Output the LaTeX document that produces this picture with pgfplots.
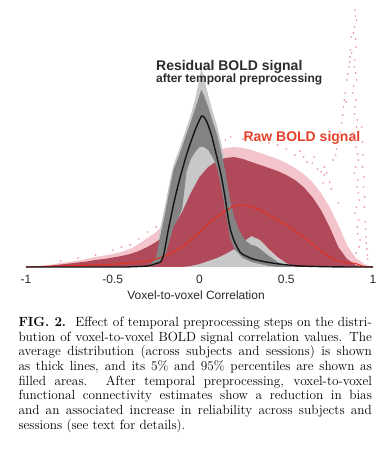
\documentclass[border=0pt]{standalone}
\usepackage{pgfplots}
\pgfplotsset{compat=1.18}
\usepgfplotslibrary{fillbetween}
\pgfplotsset{/tikz/fill between/on layer=main}
\usepackage{fontspec}
\newfontfamily\arial{Liberation Sans}
\definecolor{pinkc}{HTML}{F3C4CB}
\definecolor{pinkdot}{HTML}{EAA2AD}
\definecolor{lgray}{HTML}{C8C8C8}
\definecolor{dred}{HTML}{B04A5A}
\definecolor{ring}{HTML}{838383}
\definecolor{redline}{HTML}{E4301C}
\definecolor{txt}{HTML}{2B2B2B}
\definecolor{redtxt}{HTML}{E5402A}

\pgfplotstableread{
x y
-1 0
-0.95 0.5
-0.9 1.5
-0.85 2.5
-0.8 4
-0.75 5
-0.7 6.5
-0.65 8
-0.6 10
-0.55 11.5
-0.5 13
-0.45 15
-0.4 18
-0.35 23
-0.3 29
-0.25 35
-0.2 43
-0.15 54
-0.1 68
-0.05 86
0 100
0.05 110
0.1 116
0.15 119
0.2 120
0.25 119
0.3 117
0.35 114
0.4 111
0.45 108
0.5 104
0.55 99
0.6 93
0.65 85
0.7 74
0.75 60
0.8 42
0.85 22
0.9 9
0.95 3
1 0
}\pinkenv

\pgfplotstableread{
x y
-1 0
-0.95 0.3
-0.9 0.8
-0.85 1.5
-0.8 2.5
-0.75 3.5
-0.7 4.5
-0.65 5.5
-0.6 7
-0.55 8
-0.5 9.5
-0.45 11
-0.4 13
-0.35 16
-0.3 20
-0.25 25
-0.2 31
-0.15 41
-0.1 55
-0.05 74
0 90
0.05 100
0.1 106
0.15 109
0.2 110
0.25 108
0.3 105
0.35 102
0.4 99
0.45 96
0.5 92
0.55 87
0.6 80
0.65 70
0.7 57
0.75 40
0.8 20
0.85 8
0.9 2
0.95 0
1 0
}\rawhi

\pgfplotstableread{
x y
-1 0
-0.1 0
-0.05 1
0 3
0.05 6
0.1 9
0.15 13
0.2 18
0.25 25
0.3 31
0.35 27
0.4 18
0.45 10
0.5 4
0.55 0
1 0
}\rawlo

\pgfplotstableread{
x y
-0.35 0
-0.3 3
-0.275 8
-0.25 18
-0.225 40
-0.2 60
-0.175 83
-0.15 102
-0.125 114
-0.1 126
-0.075 139
-0.05 152
-0.025 168
0 188
0.01 200
0.025 190
0.05 172
0.075 156
0.1 142
0.125 124
0.15 104
0.175 80
0.2 62
0.225 48
0.25 40
0.275 35
0.3 33
0.325 31
0.35 27
0.4 17
0.45 9
0.5 4
0.55 1
0.6 0
}\resenv

\pgfplotstableread{
x y
-0.35 0
-0.3 1
-0.275 4
-0.25 10
-0.225 32
-0.2 52
-0.175 75
-0.15 97
-0.125 108
-0.1 120
-0.075 133
-0.05 145
-0.025 158
0 172
0.01 177
0.025 172
0.05 160
0.075 146
0.1 133
0.125 115
0.15 95
0.175 68
0.2 50
0.225 38
0.25 30
0.275 25
0.3 22
0.325 21
0.35 18
0.4 11
0.45 5
0.5 1.5
0.55 0
}\reshi

\pgfplotstableread{
x y
-0.35 0
-0.3 0
-0.25 2
-0.2 10
-0.175 25
-0.15 40
-0.125 48
-0.1 58
-0.075 95
-0.05 108
-0.025 115
0 120
0.025 120
0.05 117
0.075 110
0.1 100
0.125 80
0.15 55
0.175 30
0.2 18
0.25 9
0.3 5
0.35 3
0.4 1
0.45 0
0.55 0
}\reslo

\pgfplotstableread{
x y
-1 0
-0.45 0
-0.4 0.2
-0.35 0.5
-0.3 1
-0.275 2
-0.25 3.5
-0.225 5
-0.21 10
-0.2 18
-0.19 27
-0.18 37
-0.16 54
-0.14 70
-0.12 84
-0.1 97
-0.075 112
-0.05 125
-0.025 137
0 147
0.0125 151
0.025 150
0.04 146
0.06 137
0.075 128
0.1 110
0.118 97
0.135 82
0.147 70
0.16 55
0.176 39
0.2 26
0.233 15
0.25 12.5
0.3 8.5
0.33 7
0.35 6.2
0.4 4.5
0.45 3.2
0.5 2.2
0.58 1
0.65 0.6
0.7 0.4
0.8 0.1
0.9 0
1 0
}\resmean

\pgfplotstableread{
x y
-1 0
-0.9 0.5
-0.8 1
-0.7 1.5
-0.6 2
-0.5 2.8
-0.4 4
-0.3 6
-0.25 8
-0.2 11
-0.15 15
-0.1 20
-0.05 27
0 35
0.05 43
0.1 50
0.15 56
0.2 61
0.25 62
0.3 60
0.35 57
0.4 52
0.45 47
0.5 42
0.55 36
0.6 30
0.65 23
0.7 16
0.75 10
0.8 6
0.85 4.5
0.9 3.5
0.93 1.5
0.95 0.3
1 0
}\rawmean

\begin{document}
\begin{tikzpicture}
\fill[white] (0pt,0pt) rectangle (385pt,461pt);
\begin{axis}[
  at={(26pt,194pt)}, anchor=south west,
  scale only axis, width=347pt, height=259pt,
  xmin=-1, xmax=1, ymin=0, ymax=259,
  clip=false,
  axis x line*=bottom, axis y line=none,
  x axis line style={black!85, line width=0.7pt},
  major tick length=0pt,
  xtick={-1,-0.5,0,0.5,1},
  xticklabels={-1,-0.5,0,0.5,1},
  xticklabel style={font=\arial\fontsize{12}{13}\selectfont, text=txt, anchor=base, yshift=-16.5pt},
  ytick=\empty,
  xlabel={Voxel-to-voxel Correlation},
  xlabel style={font=\arial\fontsize{12}{13}\selectfont, text=txt, anchor=base, at={(axis description cs:0.49,0)}, yshift=-33pt},
]
\addplot[draw=none, fill=pinkc] table {\pinkenv} \closedcycle;
\addplot[only marks, color=pinkdot, mark=*, mark size=0.65pt, mark options={draw=none, fill=pinkdot}] coordinates {
(0.896,257) (0.906,247) (0.887,234) (0.902,220) (0.877,214) (0.892,200) (0.906,187)
(0.883,174) (0.896,160) (0.91,147) (0.887,134) (0.902,120) (0.915,107) (0.892,94)
(0.906,80) (0.921,67) (0.896,54) (0.91,40) (0.925,27) (0.903,14)
(0.899,251) (0.893,240) (0.9,228) (0.895,207) (0.9,194) (0.889,181) (0.903,167)
(0.893,153) (0.905,140) (0.895,127) (0.91,113) (0.9,100) (0.912,87) (0.915,74)
(0.905,60) (0.918,47) (0.912,33) (0.92,20)
(0.77,107) (0.80,127) (0.82,144) (0.83,160) (0.84,174) (0.85,187) (0.86,200) (0.87,217) (0.875,230)
(0.785,112) (0.805,130) (0.825,152) (0.835,167) (0.855,193) (0.868,210)
(0.733,94) (0.713,84) (0.79,118) (0.81,135) (0.845,165) (0.865,205)
(0.94,100) (0.945,80) (0.95,60) (0.955,45) (0.96,30) (0.965,18) (0.97,8) (0.94,125) (0.935,140)
(0.942,112) (0.948,90) (0.952,70) (0.958,38) (0.962,24) (0.968,12)
(0.6,110) (0.65,104) (0.68,98) (0.72,92) (0.75,85) (0.55,112) (0.45,122) (0.35,126)
(0.25,128) (0.28,132) (0.18,130) (0.5,118) (0.62,105) (0.7,95) (0.76,78) (0.8,64)
(0.4,124) (0.58,116) (0.66,110) (0.72,100) (0.3,127) (0.15,127)
(-0.5,17) (-0.6,12) (-0.4,22) (-0.35,28) (-0.3,35) (-0.25,40) (-0.7,9) (-0.8,6) (-0.45,20)
};
\addplot[draw=none, fill=lgray] table {\resenv} \closedcycle;
\addplot[name path=ur, draw=none] table {\rawhi};
\addplot[name path=lr, draw=none] table {\rawlo};
\addplot[fill=dred, draw=none] fill between[of=ur and lr];
\addplot[name path=ug, draw=none] table {\reshi};
\addplot[name path=lg, draw=none] table {\reslo};
\addplot[fill=ring, draw=none] fill between[of=ug and lg];
\addplot[redline, line width=1pt, smooth] table {\rawmean};
\addplot[black!92, line width=1.4pt, smooth] table {\resmean};
\node[anchor=base west, font=\arial\bfseries\fontsize{14}{15}\selectfont, text=txt, inner sep=0pt] at (axis cs:-0.251,196) {Residual BOLD signal};
\node[anchor=base west, font=\arial\bfseries\fontsize{12}{13}\selectfont, text=txt, inner sep=0pt] at (axis cs:-0.251,184) {after temporal preprocessing};
\node[anchor=base west, font=\arial\bfseries\fontsize{14}{15}\selectfont, text=redtxt, inner sep=0pt] at (axis cs:0.2525,125.5) {Raw BOLD signal};
\end{axis}
\node[anchor=north west, inner sep=0pt, text width=353.4pt, align=justify,
  font=\fontsize{13.3}{14.7}\selectfont] at (18.3pt,144.2pt) {\hyphenpenalty=10000\exhyphenpenalty=10000\tolerance=9999%
\textbf{FIG.~2.}\hspace{0.7em}Effect of temporal preprocessing steps on the distri-\linebreak
bution of voxel-to-voxel BOLD signal correlation values. The\linebreak
average distribution (across subjects and sessions) is shown\linebreak
as thick lines, and its 5\% and 95\% percentiles are shown as\linebreak
filled areas. After temporal preprocessing, voxel-to-voxel\linebreak
functional connectivity estimates show a reduction in bias\linebreak
and an associated increase in reliability across subjects and\linebreak
sessions (see text for details).};
\pgfresetboundingbox
\path[use as bounding box] (0pt,0pt) rectangle (385pt,461pt);
\end{tikzpicture}
\end{document}
